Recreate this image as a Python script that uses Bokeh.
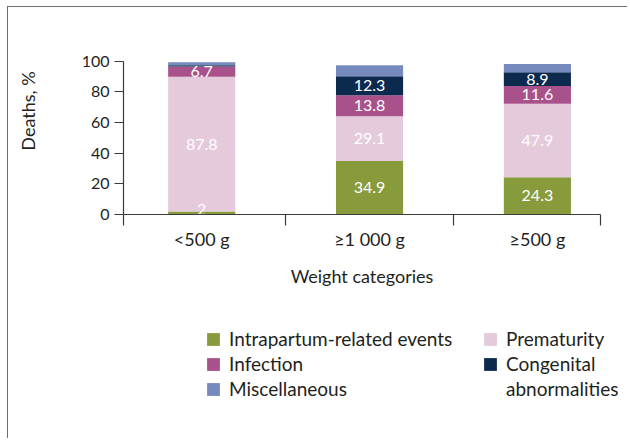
from bokeh.plotting import figure
from bokeh.models import Range1d, FixedTicker, Legend, LegendItem, LinearAxis, ColumnDataSource
from bokeh.embed import file_html
from bokeh.resources import INLINE
from bokeh.core.properties import value

# ---- data ----
categories = ["<500 g", "≥1 000 g", "≥500 g"]
series_names = ["Intrapartum-related events", "Prematurity", "Infection",
                "Congenital abnormalities", "Miscellaneous"]
intrapartum = [2.0, 34.9, 24.3]
prematurity = [87.8, 29.1, 47.9]
infection = [6.7, 13.8, 11.6]
congenital = [0.8, 12.3, 8.9]
miscellaneous = [2.0, 7.2, 5.4]
# which segment values are printed on the bars
show_intrapartum = [True, True, True]
show_prematurity = [True, True, True]
show_infection = [True, True, True]
show_congenital = [False, True, True]
show_miscellaneous = [False, False, False]
y_ticks = [0, 20, 40, 60, 80, 100]

colors = ["#879b3c", "#e4cadb", "#a8518a", "#0c2a4e", "#768abd"]
TEXT = "#231f20"
AXIS = "#3a3a3a"
FRAME = "1.5px solid #6d6e71"
FONT = "Lato"

keys = ["intrapartum", "prematurity", "infection", "congenital", "miscellaneous"]
values_list = [intrapartum, prematurity, infection, congenital, miscellaneous]
shows = [show_intrapartum, show_prematurity, show_infection, show_congenital, show_miscellaneous]

xs = [i + 0.5 for i in range(len(categories))]
data = {"x": xs}
for k, v in zip(keys, values_list):
    data[k] = v
source = ColumnDataSource(data)

# ---- layout constants ----
W = 620
H1 = 297
H2 = 135
X0, X1 = 0.034, 2.876
Y_TOP = 135          # frame reaches above 100 so the y title sits high, like the original
MIN_LABEL_Y = 3.5    # keep value labels of very thin segments inside the axes

p = figure(width=W, height=H1, x_range=Range1d(X0, X1), y_range=Range1d(0, Y_TOP),
           output_backend="svg", toolbar_location=None,
           min_border_left=115, min_border_right=28, min_border_top=0, min_border_bottom=90)
p.styles = {"margin-left": "7px", "margin-top": "6px", "border-left": FRAME, "border-top": FRAME}
p.outline_line_color = None
p.grid.visible = False

renderers = p.vbar_stack(keys, x="x", width=0.4, source=source, color=colors, line_color=None)

# segment labels
lx, ly, lt = [], [], []
for i, xc in enumerate(xs):
    bottom = 0.0
    for v, s in zip(values_list, shows):
        if s[i]:
            lx.append(xc)
            ly.append(max(bottom + v[i] / 2, MIN_LABEL_Y))
            lt.append(f"{v[i]:g}")
        bottom += v[i]
p.text(x=lx, y=ly, text=lt, text_color="white", text_align="center", text_baseline="middle",
       text_font=value(FONT), text_font_size="16px")

# axes
xa = p.xaxis[0]
xa.ticker = FixedTicker(ticks=xs, minor_ticks=[X0 + 0.0005, 1, 2, X1 - 0.0005])
xa.major_label_overrides = {xc: c for xc, c in zip(xs, categories)}
xa.major_tick_out = 0
xa.major_tick_in = 0
xa.minor_tick_out = 11
xa.minor_tick_in = 0
xa.minor_tick_line_color = AXIS
xa.major_label_standoff = 2
xa.axis_label = "Weight categories"
xa.axis_label_standoff = 12

ya = p.yaxis[0]
ya.ticker = FixedTicker(ticks=y_ticks, minor_ticks=[])
ya.bounds = (0, 100)
ya.major_tick_out = 9
ya.major_tick_in = 0
ya.major_label_standoff = 5

for ax in (xa, ya):
    ax.axis_line_color = AXIS
    ax.axis_line_width = 1.2
    ax.major_tick_line_color = AXIS
    ax.major_tick_line_width = 1.2
    ax.minor_tick_line_width = 1.2
    ax.major_label_text_font = FONT
    ax.major_label_text_color = TEXT
    ax.axis_label_text_font = FONT
    ax.axis_label_text_color = TEXT
    ax.axis_label_text_font_style = "normal"
    ax.axis_label_text_font_size = "18px"
xa.major_label_text_font_size = "18px"
ya.major_label_text_font_size = "16px"

# y-axis title on its own (line-less) axis
ytitle = LinearAxis(ticker=FixedTicker(ticks=[], minor_ticks=[]),
                    axis_line_color=None, major_tick_line_color=None, minor_tick_line_color=None,
                    axis_label="Deaths, %", axis_label_standoff=40,
                    axis_label_text_font=FONT, axis_label_text_font_size="18px",
                    axis_label_text_font_style="normal", axis_label_text_color=TEXT)
p.add_layout(ytitle, "left")

# ---- legend panel (separate root; swatch renderers are hidden copies of the bars) ----
q = figure(width=W, height=H2, x_range=Range1d(X0, X1), y_range=Range1d(0, Y_TOP),
           output_backend="svg", toolbar_location=None,
           x_axis_location=None, y_axis_location=None,
           min_border_left=0, min_border_right=0, min_border_top=0, min_border_bottom=0)
q.styles = {"margin-left": "7px", "border-left": FRAME}
q.outline_line_color = None
q.grid.visible = False
swatches = q.vbar_stack(keys, x="x", width=0.4, source=source, color=colors,
                        line_color=None, visible=False)
blank = q.vbar(x=[], top=[], width=0.1, fill_alpha=0, line_alpha=0)

cong_words = series_names[3].split(" ")
leg1 = Legend(items=[LegendItem(label=series_names[0], renderers=[swatches[0]]),
                     LegendItem(label=series_names[2], renderers=[swatches[2]]),
                     LegendItem(label=series_names[4], renderers=[swatches[4]])],
              location=(197, 38))
leg2 = Legend(items=[LegendItem(label=series_names[1], renderers=[swatches[1]]),
                     LegendItem(label=cong_words[0].capitalize(), renderers=[swatches[3]]),
                     LegendItem(label=cong_words[1], renderers=[blank])],
              location=(474, 38))
for lg in (leg1, leg2):
    lg.border_line_color = None
    lg.background_fill_alpha = 0
    lg.inactive_fill_alpha = 0
    lg.padding = 0
    lg.margin = 0
    lg.spacing = 2
    lg.glyph_width = 16
    lg.glyph_height = 16
    lg.label_height = 16
    lg.label_standoff = 8
    lg.label_text_font = FONT
    lg.label_text_font_size = "19px"
    lg.label_text_color = TEXT
    q.add_layout(lg, "center")

open("out.html", "w").write(file_html([p, q], INLINE))
